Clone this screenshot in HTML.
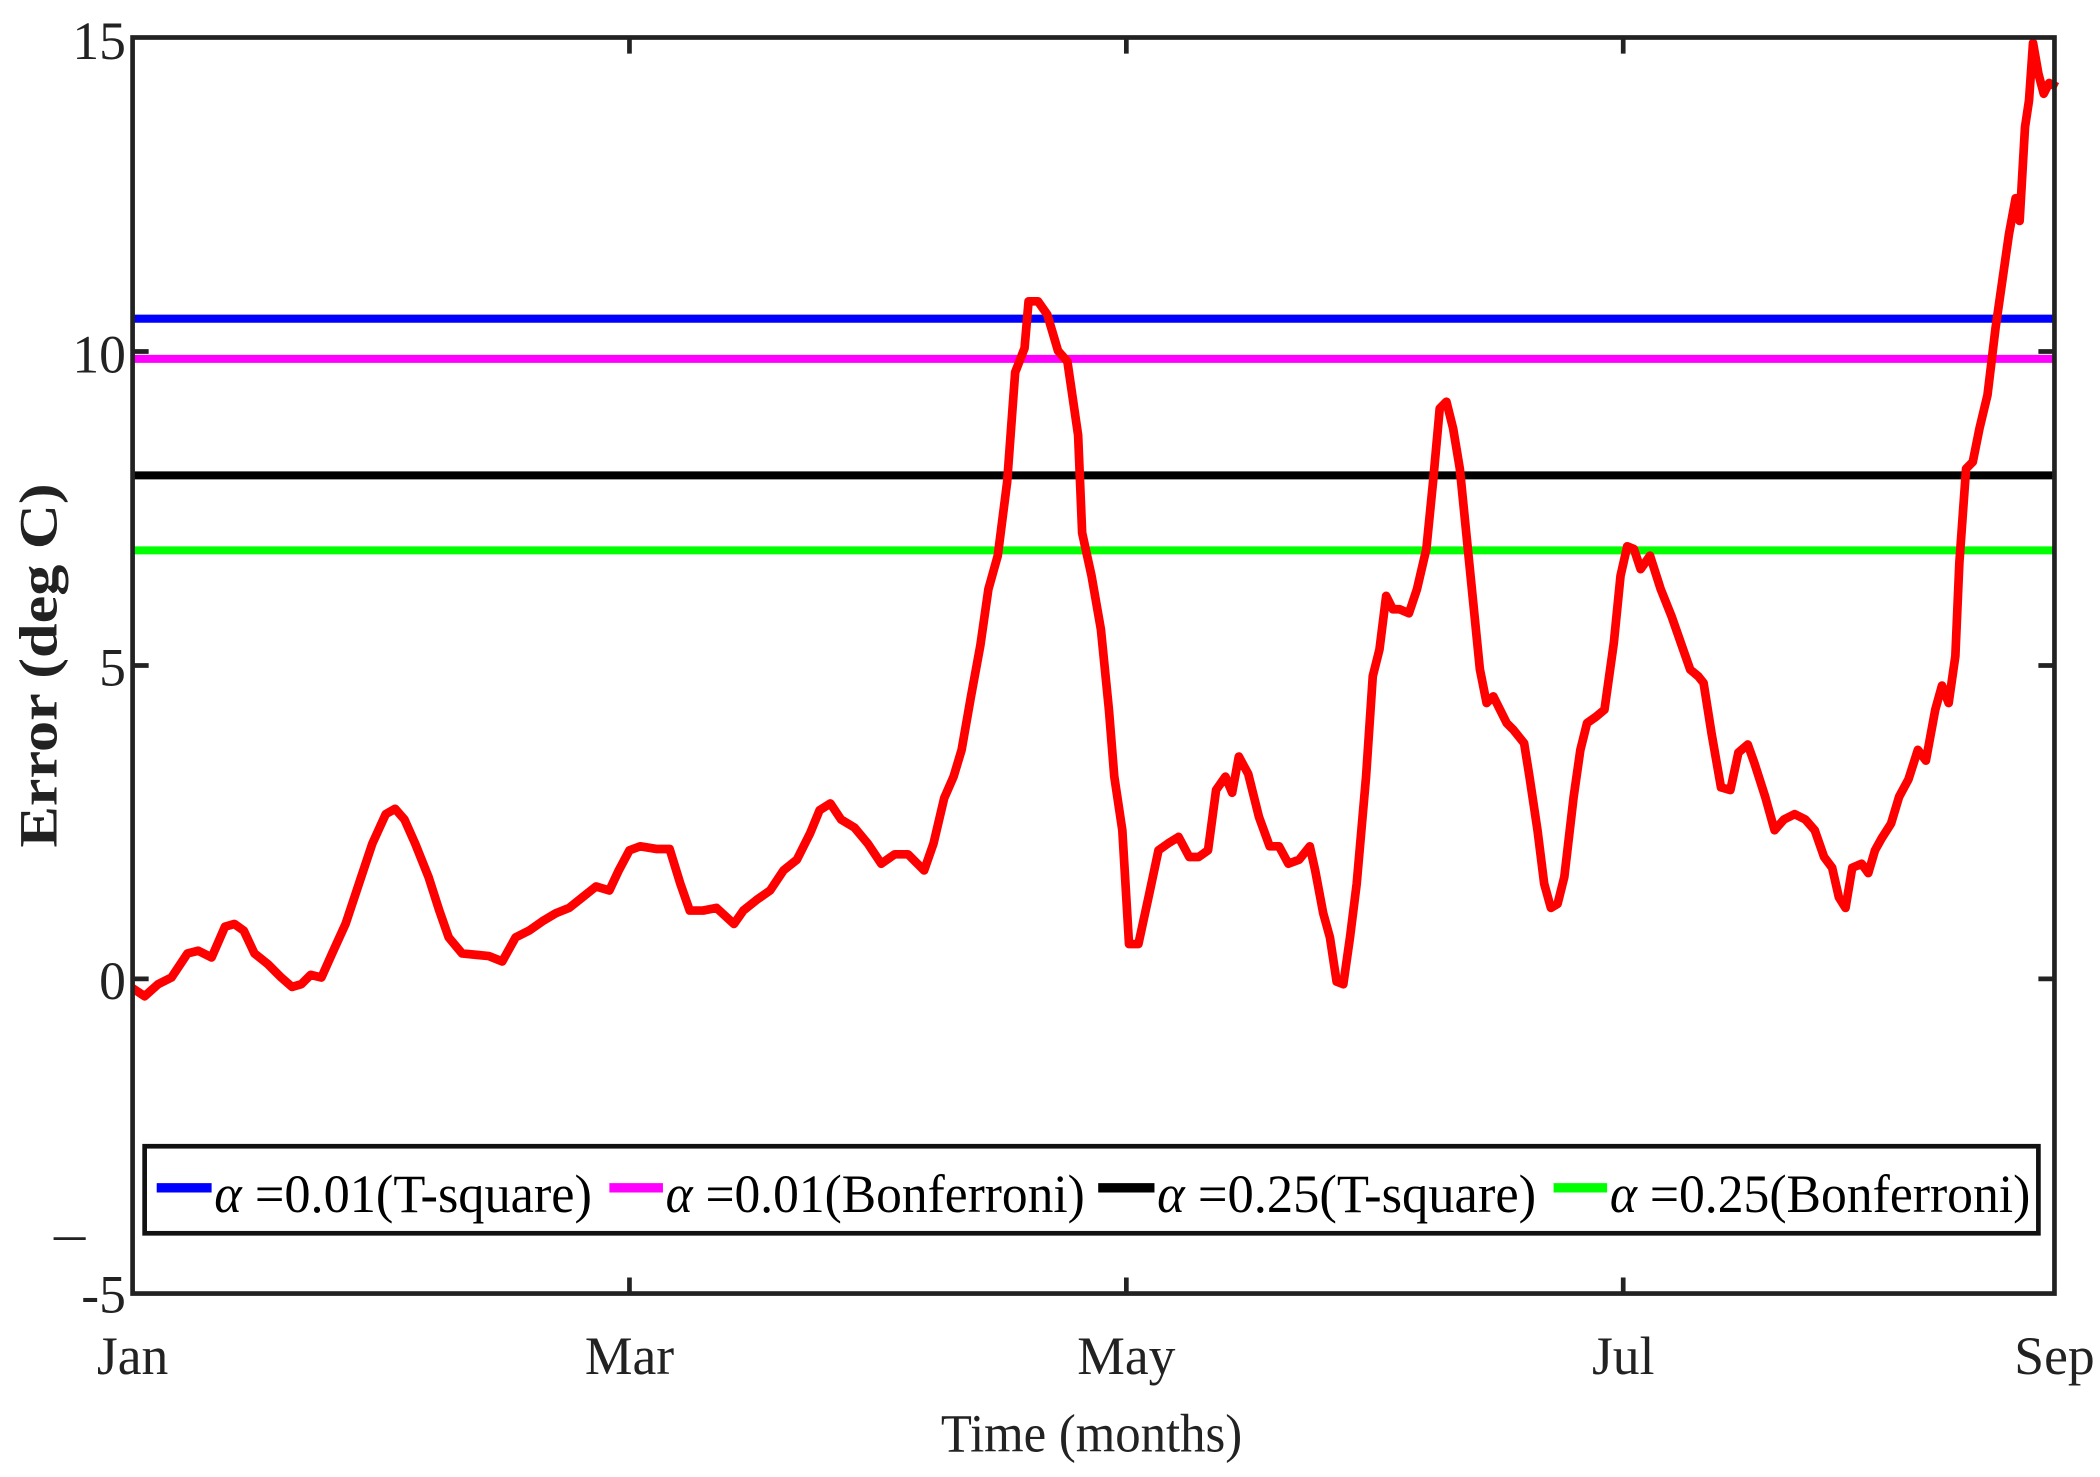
<!DOCTYPE html>
<html><head><meta charset="utf-8"><style>html,body{margin:0;padding:0;background:#fff}svg{display:block}</style></head>
<body>
<svg width="2100" height="1477" viewBox="0 0 1568 1103" preserveAspectRatio="none" xmlns="http://www.w3.org/2000/svg" font-family="Liberation Serif, serif" fill="#222">
<rect width="1568" height="1103" fill="#fff"/>
<g stroke-width="6">
<line x1="99" y1="238" x2="1534" y2="238" stroke="#0000ff"/>
<line x1="99" y1="268" x2="1534" y2="268" stroke="#ff00ff"/>
<line x1="99" y1="355" x2="1534" y2="355" stroke="#000"/>
<line x1="99" y1="411" x2="1534" y2="411" stroke="#00ff00"/>
</g>
<polyline fill="none" stroke="#ff0000" stroke-width="6.5" stroke-linejoin="round" points="99,738 108,744 118,735 128,730 140,712 148,710 158,715 168,692 175,690 182,695 190,712 200,720 210,730 218,737 225,735 232,728 240,730 248,712 258,690 268,660 278,630 288,608 295,604 302,612 310,630 320,655 328,680 335,700 345,712 355,713 365,714 375,718 385,700 395,695 405,688 415,682 425,678 435,670 445,662 455,665 462,650 470,635 478,632 490,634 500,634 508,660 515,680 525,680 535,678 548,690 555,680 565,672 575,665 585,650 595,642 605,622 612,605 620,600 628,612 638,618 648,630 658,645 668,638 678,638 690,650 697,630 705,596 712,580 718,560 725,520 732,482 738,440 745,415 752,360 758,278 765,260 768,225 775,225 782,235 790,262 797,270 805,325 808,398 815,430 822,470 828,530 832,580 838,620 843,705 850,705 858,668 865,635 872,630 880,625 888,640 895,640 902,635 908,590 915,580 920,592 925,565 932,578 940,610 948,632 955,632 962,645 970,642 978,632 982,650 988,682 993,700 998,733 1003,735 1008,700 1013,660 1020,580 1025,505 1030,485 1035,445 1040,455 1045,455 1052,458 1058,440 1065,410 1070,360 1075,305 1080,300 1085,320 1090,350 1095,400 1100,450 1105,500 1110,525 1115,520 1120,530 1125,540 1130,545 1138,555 1142,580 1148,620 1153,660 1158,678 1163,675 1168,655 1175,595 1180,560 1185,540 1192,535 1198,530 1205,480 1210,430 1215,408 1220,410 1225,425 1232,415 1240,440 1248,460 1255,480 1262,500 1268,505 1272,510 1278,548 1285,588 1292,590 1298,562 1305,556 1310,570 1318,595 1325,620 1332,612 1340,608 1348,612 1355,620 1362,640 1368,648 1373,670 1378,678 1383,648 1390,645 1395,652 1400,635 1405,626 1412,615 1418,595 1425,582 1432,560 1438,568 1445,530 1450,512 1455,525 1460,490 1463,420 1468,350 1473,345 1478,320 1484,295 1490,245 1495,210 1500,175 1505,148 1508,165 1512,95 1515,75 1518,32 1522,55 1526,70 1530,62 1536,65"/>
<g stroke="#222" stroke-width="3.5" fill="none">
<rect x="99" y="28" width="1435" height="938"/>
<path d="M99,262.5h12M99,497h12M99,731h12M1534,262.5h-12M1534,497h-12M1534,731h-12M470,28v12M841,28v12M1212,28v12M470,966v-12M841,966v-12M1212,966v-12"/>
</g>
<g font-size="40" text-anchor="end">
<text x="94" y="44">15</text>
<text x="94" y="278">10</text>
<text x="94" y="512">5</text>
<text x="94" y="746">0</text>
<text x="94" y="980">-5</text>
</g>
<line x1="40" y1="925" x2="64" y2="925" stroke="#222" stroke-width="2"/>
<g font-size="40" text-anchor="middle">
<text x="99" y="1026">Jan</text>
<text x="470" y="1026">Mar</text>
<text x="841" y="1026">May</text>
<text x="1212" y="1026">Jul</text>
<text x="1534" y="1026">Sep</text>
<text x="815" y="1084" textLength="225" lengthAdjust="spacingAndGlyphs">Time (months)</text>
<text transform="translate(42,497) rotate(-90)" font-weight="bold" textLength="272" lengthAdjust="spacingAndGlyphs">Error (deg C)</text>
</g>
<rect x="108" y="856" width="1414" height="65" fill="#fff" stroke="#111" stroke-width="3.5"/>
<g stroke-width="7">
<line x1="117" y1="887" x2="158" y2="887" stroke="#0000ff"/>
<line x1="455" y1="887" x2="495" y2="887" stroke="#ff00ff"/>
<line x1="820" y1="887" x2="862" y2="887" stroke="#000"/>
<line x1="1160" y1="887" x2="1200" y2="887" stroke="#00ff00"/>
</g>
<g font-size="40" fill="#000">
<text x="160" y="905" textLength="282" lengthAdjust="spacingAndGlyphs"><tspan font-style="italic">α</tspan> =0.01(T-square)</text>
<text x="497" y="905" textLength="313" lengthAdjust="spacingAndGlyphs"><tspan font-style="italic">α</tspan> =0.01(Bonferroni)</text>
<text x="864" y="905" textLength="283" lengthAdjust="spacingAndGlyphs"><tspan font-style="italic">α</tspan> =0.25(T-square)</text>
<text x="1202" y="905" textLength="314" lengthAdjust="spacingAndGlyphs"><tspan font-style="italic">α</tspan> =0.25(Bonferroni)</text>
</g>
</svg>
</body></html>
